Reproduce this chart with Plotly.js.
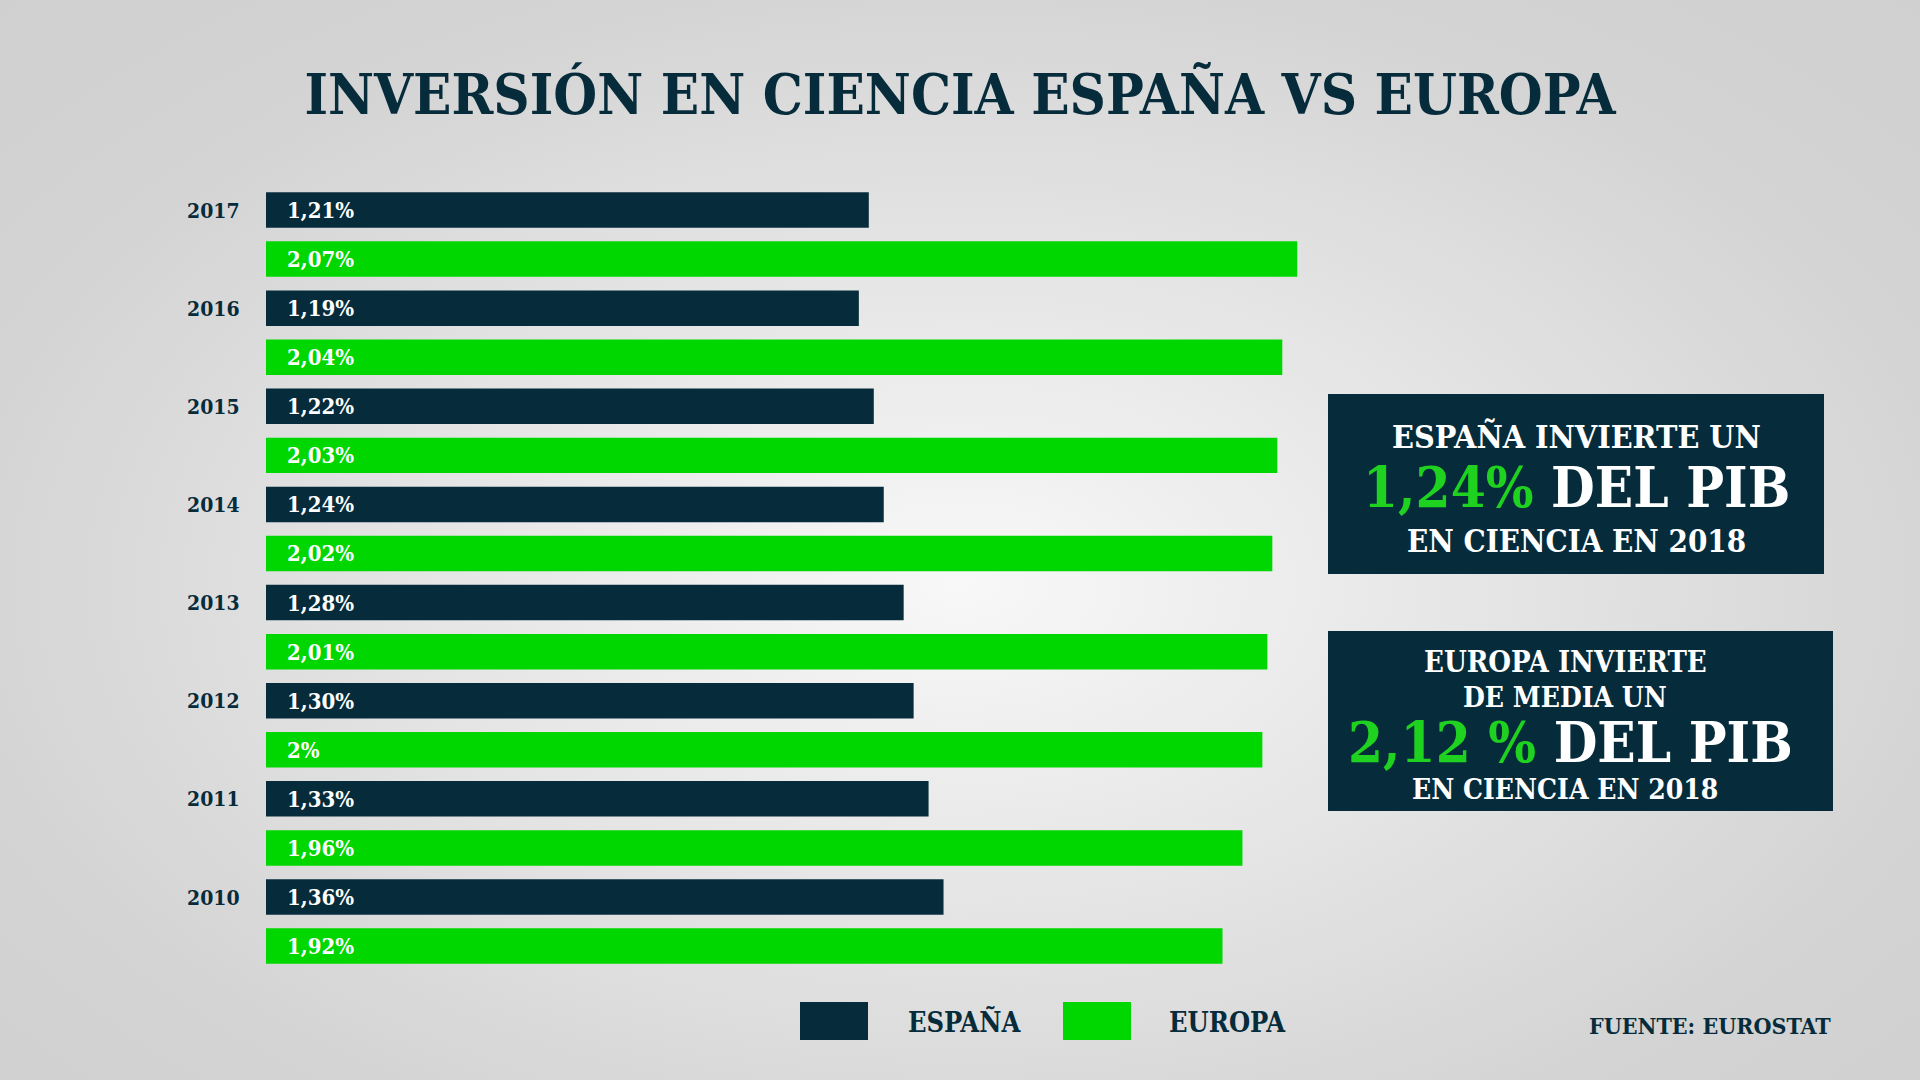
<!DOCTYPE html>
<html>
<head>
<meta charset="utf-8">
<script src="https://cdn.plot.ly/plotly-3.0.1.min.js"></script>
<style>
  html, body { margin: 0; padding: 0; }
  #chart {
    width: 1920px; height: 1080px;
    background: radial-gradient(ellipse 75% 80% at 50% 54%, #f8f8f8 0%, #e6e6e6 35%, #d4d4d4 70%, #cfcfcf 100%);
  }
</style>
</head>
<body>
<div id="chart"></div>
<script>
const years = ['2010', '2011', '2012', '2013', '2014', '2015', '2016', '2017'];
const spain = [1.36, 1.33, 1.30, 1.28, 1.24, 1.22, 1.19, 1.21];
const europe = [1.92, 1.96, 2.00, 2.01, 2.02, 2.03, 2.04, 2.07];
const spainLabels = ['1,36%', '1,33%', '1,30%', '1,28%', '1,24%', '1,22%', '1,19%', '1,21%'];
const europeLabels = ['1,92%', '1,96%', '2%', '2,01%', '2,02%', '2,03%', '2,04%', '2,07%'];
const seriesNames = ['ESPAÑA', 'EUROPA'];

const NAVY = '#062c3c';
const GREEN = '#00d600';
const SERIF = '"DejaVu Serif Condensed", "DejaVu Serif", serif';
const W = 1920, H = 1080;
const px = v => v / W;
const py = v => 1 - v / H;

// Europe first so that, within each year group, Spain sits above Europe
const traces = [
  { type: 'bar', orientation: 'h', name: seriesNames[1], y: years, x: europe,
    marker: { color: GREEN }, hoverinfo: 'skip' },
  { type: 'bar', orientation: 'h', name: seriesNames[0], y: years, x: spain,
    marker: { color: NAVY }, hoverinfo: 'skip' }
];

const annotations = [];
years.forEach((yr, i) => {
  // year label, aligned with the Spain bar of its group (y = category index)
  annotations.push({ xref: 'paper', yref: 'y', x: px(242), y: i, xanchor: 'right', yanchor: 'middle',
    yshift: 24.5, showarrow: false, text: yr,
    font: { family: SERIF, size: 21, color: NAVY, weight: 700 } });
  annotations.push({ xref: 'x', yref: 'y', x: 0, y: i, xanchor: 'left', yanchor: 'middle',
    xshift: 19, yshift: 24.5, showarrow: false, text: spainLabels[i],
    font: { family: SERIF, size: 22, color: '#ffffff', weight: 700 } });
  annotations.push({ xref: 'x', yref: 'y', x: 0, y: i, xanchor: 'left', yanchor: 'middle',
    xshift: 19, yshift: -24.5, showarrow: false, text: europeLabels[i],
    font: { family: SERIF, size: 22, color: '#ffffff', weight: 700 } });
});

function txt(x, y, text, size, color, anchor) {
  annotations.push({ xref: 'paper', yref: 'paper', x: px(x), y: py(y), xanchor: anchor || 'center',
    yanchor: 'middle', showarrow: false, text: text,
    font: { family: SERIF, size: size, color: color || '#ffffff', weight: 700 } });
}
// Box 1
txt(1576, 437, 'ESPAÑA INVIERTE UN', 32);
txt(1576, 487, '<span style="color:#1fd21f">1,24%</span> DEL PIB', 56);
txt(1576, 541, 'EN CIENCIA EN 2018', 31);
// Box 2
txt(1565, 662, 'EUROPA INVIERTE', 29);
txt(1565, 697, 'DE MEDIA UN', 28);
txt(1570, 742, '<span style="color:#1fd21f">2,12 %</span> DEL PIB', 56);
txt(1565, 789, 'EN CIENCIA EN 2018', 28);
// Legend
txt(906, 1022, seriesNames[0], 27, NAVY, 'left');
txt(1167, 1022, seriesNames[1], 27, NAVY, 'left');
// Source
txt(1833, 1025, 'FUENTE: EUROSTAT', 23, NAVY, 'right');

const shapes = [
  { type: 'rect', xref: 'paper', yref: 'paper', x0: px(1328), x1: px(1824), y0: py(574), y1: py(394),
    fillcolor: NAVY, line: { width: 0 }, layer: 'below' },
  { type: 'rect', xref: 'paper', yref: 'paper', x0: px(1328), x1: px(1833), y0: py(811), y1: py(631),
    fillcolor: NAVY, line: { width: 0 }, layer: 'below' },
  { type: 'rect', xref: 'paper', yref: 'paper', x0: px(800), x1: px(868), y0: py(1040), y1: py(1002),
    fillcolor: NAVY, line: { width: 0 } },
  { type: 'rect', xref: 'paper', yref: 'paper', x0: px(1063), x1: px(1131), y0: py(1040), y1: py(1002),
    fillcolor: GREEN, line: { width: 0 } }
];

const layout = {
  width: W, height: H,
  margin: { l: 0, r: 0, t: 0, b: 0 },
  paper_bgcolor: 'rgba(0,0,0,0)',
  plot_bgcolor: 'rgba(0,0,0,0)',
  showlegend: false,
  barmode: 'group',
  bargap: 0,
  bargroupgap: 0.277,
  title: {
    text: 'INVERSIÓN EN CIENCIA ESPAÑA VS EUROPA',
    x: 0.5, xanchor: 'center', xref: 'paper',
    y: py(94), yanchor: 'middle', yref: 'paper',
    font: { family: SERIF, size: 56, color: NAVY, weight: 700 }
  },
  xaxis: {
    domain: [px(266), px(1362)],
    range: [0, 2.2],
    showgrid: false, zeroline: false, showticklabels: false, showline: false, ticks: ''
  },
  yaxis: {
    domain: [py(970.6), py(185.5)],
    type: 'category',
    categoryorder: 'array', categoryarray: years,
    range: [-0.5, 7.5],
    showgrid: false, zeroline: false, showline: false, ticks: '',
    showticklabels: false
  },
  annotations: annotations,
  shapes: shapes
};

Plotly.newPlot('chart', traces, layout, { displayModeBar: false, staticPlot: true });
</script>
</body>
</html>
